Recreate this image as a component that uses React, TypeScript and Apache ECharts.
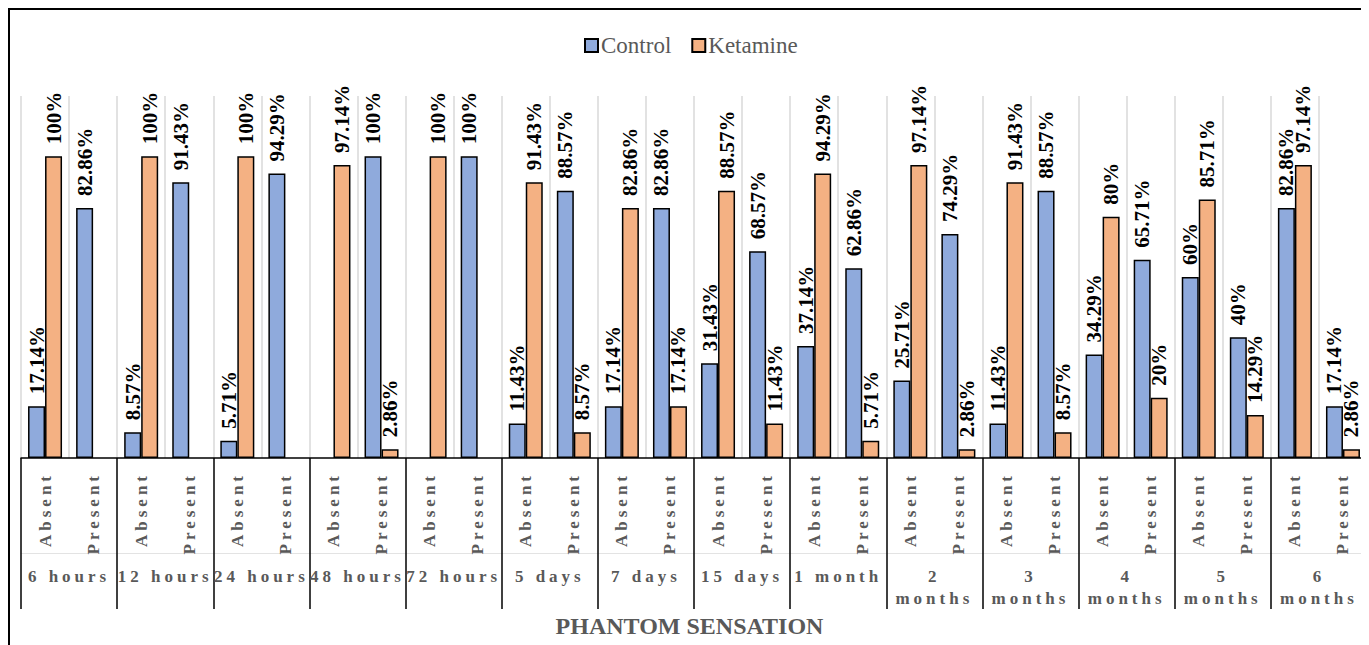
import React, { useEffect, useRef } from "react";
import * as echarts from "echarts";

// Follow-up time points (outer category level)
const groups = [
  "6 hours", "12 hours", "24 hours", "48 hours", "72 hours", "5 days", "7 days",
  "15 days", "1 month", "2\nmonths", "3\nmonths", "4\nmonths", "5\nmonths", "6\nmonths",
];
// Inner category level, repeated under each time point
const states = ["Absent", "Present"];

// Percentage of patients per group/state, in category order
const control = [
  17.14, 82.86, 8.57, 91.43, 5.71, 94.29, 0, 100, 0, 100, 11.43, 88.57, 17.14, 82.86,
  31.43, 68.57, 37.14, 62.86, 25.71, 74.29, 11.43, 88.57, 34.29, 65.71, 60, 40, 82.86, 17.14,
];
const ketamine = [
  100, 0, 100, 0, 100, 0, 97.14, 2.86, 100, 0, 91.43, 8.57, 82.86, 17.14,
  88.57, 11.43, 94.29, 5.71, 97.14, 2.86, 91.43, 8.57, 80, 20, 85.71, 14.29, 97.14, 2.86,
];

const FONT = "Liberation Serif";
const GRAY = "#595959";

const barSeries = (name: string, values: number[], color: string) => ({
  name,
  type: "bar",
  xAxisIndex: 0,
  barWidth: 17,
  barGap: "0%",
  data: values.map((v) => (v === 0 ? null : v)),
  itemStyle: { color, borderColor: "#000", borderWidth: 1.5 },
  label: {
    show: true,
    position: "top",
    rotate: 90,
    align: "left",
    verticalAlign: "middle",
    distance: 12,
    formatter: (p: any) => `${p.value}%`,
    fontFamily: FONT,
    fontSize: 21,
    fontWeight: "bold",
    color: "#000",
  },
});

export default function App() {
  const ref = useRef<HTMLDivElement>(null);

  useEffect(() => {
    if (!ref.current) return;
    const chart = echarts.init(ref.current, null, { renderer: "svg" });
    const innerCats = groups.flatMap(() => states);

    chart.setOption({
      animation: false,
      backgroundColor: "#fff",
      textStyle: { fontFamily: FONT },
      legend: {
        top: 19,
        left: 569,
        icon: "rect",
        itemWidth: 13,
        itemHeight: 13,
        itemGap: 20,
        textStyle: { fontFamily: FONT, fontSize: 23, color: GRAY, padding: [0, 0, 0, -2] },
      },
      grid: { left: 11, right: 2, top: 86, bottom: 187, containLabel: false },
      xAxis: [
        {
          type: "category",
          data: innerCats,
          axisLine: { lineStyle: { color: "#000", width: 1.5 } },
          axisTick: { show: false },
          splitLine: { show: true, interval: 0, lineStyle: { color: "#d9d9d9", width: 1.5 } },
          axisLabel: {
            interval: 0,
            rotate: 90,
            margin: 14,
            fontFamily: FONT,
            fontSize: 17,
            fontWeight: "bold",
            color: GRAY,
          },
        },
        {
          type: "category",
          data: groups,
          position: "bottom",
          axisLine: { show: false },
          axisTick: { show: true, interval: 0, length: 151, lineStyle: { color: "#000", width: 1.5 } },
          axisLabel: {
            interval: 0,
            margin: 107,
            fontFamily: FONT,
            fontSize: 17,
            lineHeight: 22,
            fontWeight: "bold",
            color: GRAY,
          },
        },
        {
          type: "category",
          data: groups,
          position: "bottom",
          offset: 95,
          axisLine: { show: true, lineStyle: { color: "#e3e3e3", width: 1 } },
          axisTick: { show: false },
          axisLabel: { show: false },
        },
      ],
      yAxis: {
        type: "value",
        min: 0,
        max: 120,
        show: false,
        splitLine: { show: false },
      },
      series: [
        barSeries("Control", control, "#8faadc"),
        barSeries("Ketamine", ketamine, "#f4b183"),
      ],
      graphic: [
        {
          type: "text",
          left: "center",
          top: 604,
          style: {
            text: "PHANTOM SENSATION",
            font: `bold 24px ${FONT}`,
            fill: GRAY,
          },
        },
      ],
    });

    // Spread out the category axis lettering
    const spaced = new Set([...states, ...groups.flatMap((g) => g.split("\n"))]);
    ref.current.querySelectorAll("text").forEach((t) => {
      if (spaced.has((t.textContent || "").trim())) t.setAttribute("letter-spacing", "4");
    });

    return () => chart.dispose();
  }, []);

  return (
    <div
      style={{
        width: 1361,
        height: 637,
        borderLeft: "2px solid #000",
        borderTop: "2px solid #000",
        boxSizing: "border-box",
      }}
    >
      <div ref={ref} style={{ width: 1359, height: 635 }} />
    </div>
  );
}
